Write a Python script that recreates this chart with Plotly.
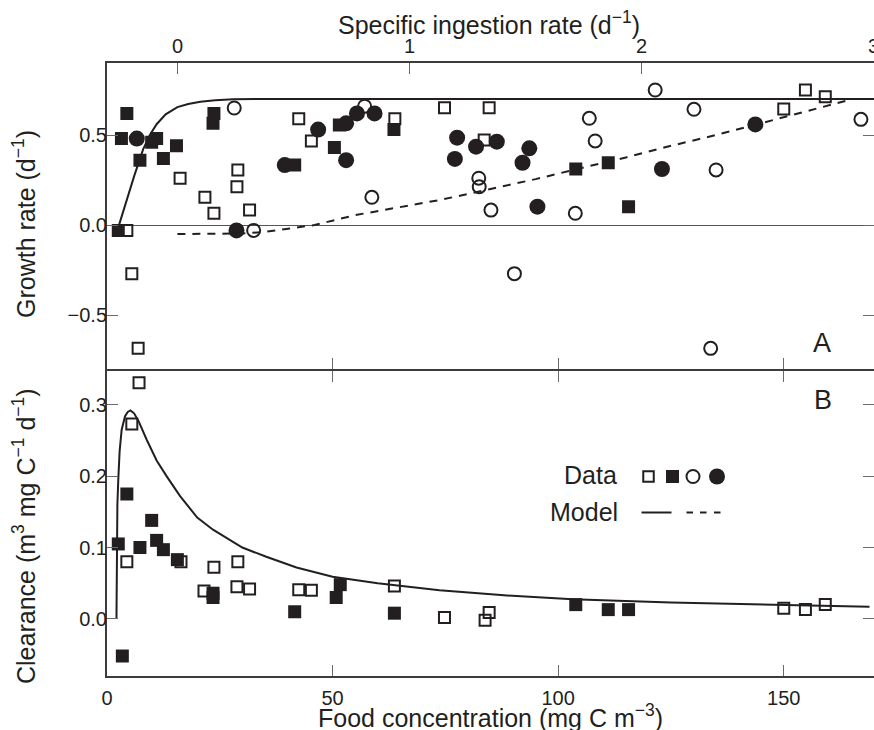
import plotly.graph_objects as go

# ---- data ----
# Panel A: growth rate (d-1) vs food concentration (mg C m-3)
a_osq_x = [4.4, 5.5, 6.9, 16.2, 21.7, 23.7, 29.0, 28.8, 31.6, 42.5, 45.3, 63.8, 74.8, 84.7, 83.6, 150.0, 154.8, 159.2]
a_osq_y = [-0.03, -0.27, -0.685, 0.26, 0.154, 0.065, 0.305, 0.213, 0.083, 0.59, 0.467, 0.59, 0.652, 0.652, 0.472, 0.644, 0.75, 0.713]

a_fsq_x = [4.4, 3.2, 2.5, 7.3, 11.0, 9.9, 12.5, 15.4, 23.7, 23.5, 41.6, 50.4, 51.5, 63.6, 103.9, 111.1, 115.6]
a_fsq_y = [0.62, 0.48, -0.03, 0.36, 0.48, 0.46, 0.37, 0.44, 0.62, 0.565, 0.333, 0.43, 0.555, 0.53, 0.311, 0.346, 0.102]

a_oci_x = [28.2, 32.5, 57.1, 58.7, 82.4, 82.5, 85.1, 90.3, 103.8, 106.9, 108.2, 121.5, 130.1, 135.0, 133.8, 167.1]
a_oci_y = [0.65, -0.03, 0.66, 0.154, 0.26, 0.213, 0.083, -0.27, 0.065, 0.593, 0.467, 0.75, 0.643, 0.306, -0.685, 0.587]

a_fci_x = [6.6, 28.7, 39.4, 46.8, 53.0, 53.0, 55.4, 59.3, 77.6, 81.8, 86.4, 77.1, 93.6, 92.1, 95.4, 123.0, 143.7]
a_fci_y = [0.48, -0.03, 0.333, 0.53, 0.36, 0.565, 0.62, 0.62, 0.485, 0.435, 0.463, 0.367, 0.426, 0.346, 0.102, 0.311, 0.559]

# model curves, panel A
a_solid_x = [2.3, 4.0, 6.0, 8.0, 9.5, 11.0, 13.0, 15.6, 18.0, 20.7, 24.0, 28.0, 35.0, 170.0]
a_solid_y = [-0.03, 0.11, 0.27, 0.42, 0.5, 0.56, 0.615, 0.655, 0.672, 0.685, 0.693, 0.698, 0.7, 0.7]
a_dash_x = [15.6, 25.0, 30.0, 35.0, 40.0, 46.0, 55.0, 65.0, 74.0, 85.0, 95.0, 104.0, 115.0, 125.0, 135.0, 144.0, 155.0, 165.0]
a_dash_y = [-0.05, -0.05, -0.047, -0.038, -0.022, 0.0, 0.055, 0.1, 0.14, 0.2, 0.255, 0.31, 0.375, 0.44, 0.5, 0.559, 0.63, 0.698]

# Panel B: clearance (m3 mg C-1 d-1)
b_osq_x = [7.1, 5.5, 4.4, 16.4, 23.7, 21.5, 29.0, 28.8, 31.6, 42.5, 45.3, 63.7, 74.8, 84.7, 83.8, 150.0, 154.8, 159.2]
b_osq_y = [0.331, 0.273, 0.08, 0.08, 0.0725, 0.039, 0.08, 0.045, 0.042, 0.041, 0.04, 0.046, 0.002, 0.009, -0.002, 0.015, 0.013, 0.02]

b_fsq_x = [2.5, 4.4, 3.4, 7.3, 9.9, 11.0, 12.5, 15.6, 23.5, 23.5, 41.6, 50.8, 51.7, 63.7, 103.9, 111.1, 115.6]
b_fsq_y = [0.105, 0.175, -0.052, 0.1, 0.138, 0.11, 0.097, 0.083, 0.036, 0.03, 0.01, 0.03, 0.048, 0.008, 0.02, 0.013, 0.013]

b_model_x = [2.1, 2.15, 2.3, 2.5, 2.8, 3.25, 4.0, 4.6, 5.2, 6.0, 7.0, 8.8, 11.0, 13.2, 16.2, 20.0, 23.5,
             30.0, 35.3, 42.0, 50.0, 60.0, 73.7, 88.0, 103.2, 125.0, 149.8, 169.0]
b_model_y = [0.0, 0.1, 0.16, 0.195, 0.235, 0.265, 0.284, 0.29, 0.292, 0.288, 0.277, 0.251, 0.222, 0.2, 0.172,
             0.142, 0.125, 0.1, 0.087, 0.072, 0.059, 0.05, 0.04, 0.033, 0.0276, 0.023, 0.0196, 0.017]

x_ticks = [0, 50, 100, 150]
top_ticks = [0, 1, 2, 3]
a_ticks = [-0.5, 0.0, 0.5]
a_labels = ["\u22120.5", "0.0", "0.5"]
b_ticks = [0.0, 0.1, 0.2, 0.3]
b_labels = ["0.0", "0.1", "0.2", "0.3"]

INK = "#231f20"
FRAME = "#3c3c3c"
TICK = "#6a6a6a"
FONT = "Liberation Sans, Arial, sans-serif"

W, H = 874, 730
L, R, T, B = 107, 0, 63, 54
PH = H - T - B

A_RANGE = [-0.797, 0.9]
B_RANGE = [-0.08, 0.348]


def pp(x, y):
    # window pixel -> paper coords
    return (x - L) / (W - L - R), (H - B - y) / PH


def mk(sym, size, filled):
    if filled:
        return dict(symbol=sym, size=size, color=INK, line=dict(width=0))
    return dict(symbol=sym + "-open", size=size, color=INK, line=dict(width=2, color=INK))


fig = go.Figure()

# panel A
fig.add_trace(go.Scatter(x=a_solid_x, y=a_solid_y, mode="lines", line=dict(color=INK, width=2),
                         xaxis="x", yaxis="y"))
fig.add_trace(go.Scatter(x=a_dash_x, y=a_dash_y, mode="lines", line=dict(color=INK, width=2, dash="8px,7px"),
                         xaxis="x", yaxis="y"))
fig.add_trace(go.Scatter(x=a_osq_x, y=a_osq_y, mode="markers", marker=mk("square", 11, False), xaxis="x", yaxis="y"))
fig.add_trace(go.Scatter(x=a_fsq_x, y=a_fsq_y, mode="markers", marker=mk("square", 13, True), xaxis="x", yaxis="y"))
fig.add_trace(go.Scatter(x=a_oci_x, y=a_oci_y, mode="markers", marker=mk("circle", 13, False), xaxis="x", yaxis="y"))
fig.add_trace(go.Scatter(x=a_fci_x, y=a_fci_y, mode="markers", marker=mk("circle", 16, True), xaxis="x", yaxis="y"))

# panel B
fig.add_trace(go.Scatter(x=b_model_x, y=b_model_y, mode="lines", line=dict(color=INK, width=2),
                         xaxis="x2", yaxis="y2"))
fig.add_trace(go.Scatter(x=b_osq_x, y=b_osq_y, mode="markers", marker=mk("square", 11, False), xaxis="x2", yaxis="y2"))
fig.add_trace(go.Scatter(x=b_fsq_x, y=b_fsq_y, mode="markers", marker=mk("square", 13, True), xaxis="x2", yaxis="y2"))

# carriers for the extra axes (invisible)
for xa, ya in (("x3", "y"), ("x", "y3"), ("x2", "y4")):
    fig.add_trace(go.Scatter(x=[0], y=[0], mode="markers", marker=dict(opacity=0), xaxis=xa, yaxis=ya,
                             hoverinfo="skip"))

tickfont = dict(family=FONT, size=20, color=INK)
common = dict(showgrid=False, ticks="inside", ticklen=11, tickwidth=1, tickcolor=TICK,
              showline=True, linecolor=FRAME, linewidth=2, tickfont=tickfont)
right_ticks = dict(side="right", showgrid=False, zeroline=False, showline=False, showticklabels=False,
                   ticks="inside", ticklen=11, tickwidth=1, tickcolor=TICK)

gap = 1.0 / PH  # keeps the shared A/B border a single 2px line

fig.update_layout(
    width=W, height=H,
    margin=dict(l=L, r=R, t=T, b=B, pad=0, autoexpand=False),
    paper_bgcolor="white", plot_bgcolor="white",
    showlegend=False,
    hovermode=False,
    modebar=dict(bgcolor="rgba(0,0,0,0)", color="rgba(0,0,0,0)", activecolor="rgba(0,0,0,0)"),
    font=dict(family=FONT, color=INK),
    xaxis=dict(domain=[0, 1], anchor="y", range=[0, 170], tickvals=x_ticks, showticklabels=False,
               mirror=True, zeroline=False, **common),
    yaxis=dict(domain=[0.5 + gap, 1], anchor="x", range=A_RANGE, tickvals=a_ticks, ticktext=a_labels,
               zeroline=True, zerolinecolor="#555555", zerolinewidth=1,
               ticklabelstandoff=-6, **common),
    xaxis2=dict(domain=[0, 1], anchor="y2", range=[0, 170], tickvals=x_ticks,
                mirror="ticks", zeroline=False, ticklabelstandoff=3, **common),
    yaxis2=dict(domain=[0, 0.5 - gap], anchor="x2", range=B_RANGE, tickvals=b_ticks, ticktext=b_labels,
                zeroline=False, ticklabelstandoff=-6, **common),
    xaxis3=dict(overlaying="x", side="top", anchor="y", range=[-0.304, 3.002], tickvals=top_ticks,
                showgrid=False, zeroline=False, showline=False, ticks="inside", ticklen=11, tickwidth=1,
                tickcolor=TICK, tickfont=tickfont, ticklabelstandoff=5, ticklabeloverflow="allow"),
    yaxis3=dict(overlaying="y", anchor="x", range=A_RANGE, tickvals=a_ticks, **right_ticks),
    yaxis4=dict(overlaying="y2", anchor="x2", range=B_RANGE, tickvals=b_ticks, **right_ticks),
)

titlefont = dict(family=FONT, size=25, color=INK)
ann = []
x, y = pp(489, 23)
ann.append(dict(text="Specific ingestion rate (d<sup>\u22121</sup>)", x=x, y=y))
x, y = pp(490, 716)
ann.append(dict(text="Food concentration (mg C m<sup>\u22123</sup>)", x=x, y=y))
x, y = pp(24, 224)
ann.append(dict(text="Growth rate (d<sup>\u22121</sup>)", x=x, y=y, textangle=-90))
x, y = pp(24, 536)
ann.append(dict(text="Clearance (m<sup>3</sup> mg C<sup>\u22121</sup> d<sup>\u22121</sup>)", x=x, y=y, textangle=-90))
x, y = pp(822, 343)
ann.append(dict(text="A", x=x, y=y, font=dict(family=FONT, size=27, color=INK)))
x, y = pp(823, 400)
ann.append(dict(text="B", x=x, y=y, font=dict(family=FONT, size=27, color=INK)))
x, y = pp(619, 475)
ann.append(dict(text="Data", x=x, y=y, xanchor="right"))
x, y = pp(620, 512)
ann.append(dict(text="Model", x=x, y=y, xanchor="right"))
for a in ann:
    a.setdefault("font", titlefont)
    a.setdefault("xanchor", "center")
    a.update(xref="paper", yref="paper", yanchor="middle", showarrow=False)
fig.update_layout(annotations=ann)

# legend key drawn as shapes
shapes = []


def box(cx, cy, s, filled, circle=False):
    x0, y0 = pp(cx - s / 2, cy + s / 2)
    x1, y1 = pp(cx + s / 2, cy - s / 2)
    shapes.append(dict(type="circle" if circle else "rect", xref="paper", yref="paper",
                       x0=x0, y0=y0, x1=x1, y1=y1,
                       fillcolor=INK if filled else "rgba(0,0,0,0)",
                       line=dict(color=INK, width=0 if filled else 2)))


box(648.5, 476.5, 10.5, False)
box(672.5, 476.5, 13, True)
box(693, 476.5, 13, False, circle=True)
box(717, 476.5, 16, True, circle=True)


def seg(x0p, x1p, yp):
    x0, y0 = pp(x0p, yp)
    x1, _ = pp(x1p, yp)
    shapes.append(dict(type="line", xref="paper", yref="paper", x0=x0, x1=x1, y0=y0, y1=y0,
                       line=dict(color=INK, width=2)))


seg(641.5, 671.5, 512.5)
seg(686.5, 693, 512.5)
seg(700, 706.5, 512.5)
seg(714, 720.5, 512.5)
fig.update_layout(shapes=shapes)

# the page gets no body margin and no scrollbars, so the figure fills the window exactly
fig.write_html("out.html", config={"displayModeBar": False},
               post_script="document.body.style.margin='0';document.documentElement.style.overflow='hidden';")
